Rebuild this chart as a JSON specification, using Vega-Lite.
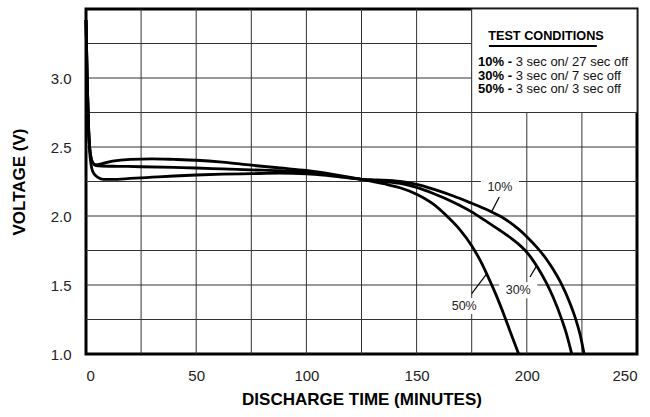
{
  "$schema": "https://vega.github.io/schema/vega-lite/v6.json",
  "width": 551,
  "height": 345,
  "autosize": {"type": "none"},
  "padding": {"left": 86, "top": 9, "right": 13, "bottom": 63},
  "background": "white",
  "config": {
    "font": "Liberation Sans",
    "view": {"stroke": "black", "strokeWidth": 3},
    "axis": {
      "domain": false,
      "ticks": false,
      "grid": false,
      "labelFont": "Liberation Sans",
      "labelFontSize": 15,
      "labelColor": "#222",
      "titleFont": "Liberation Sans",
      "titleFontSize": 17,
      "titleFontWeight": "bold",
      "titleColor": "black"
    }
  },
  "datasets": {
    "vgrid": [{"t": 25}, {"t": 50}, {"t": 75}, {"t": 100}, {"t": 125}, {"t": 150}, {"t": 175}, {"t": 200}, {"t": 225}],
    "hgrid": [{"v": 1.25}, {"v": 1.5}, {"v": 1.75}, {"v": 2.0}, {"v": 2.25}, {"v": 2.5}, {"v": 2.75}, {"v": 3.0}, {"v": 3.25}],
    "curves": [
      {"s": "50%", "t": 0, "v": 3.42}, {"s": "50%", "t": 0.6, "v": 2.95}, {"s": "50%", "t": 1.2, "v": 2.62}, {"s": "50%", "t": 2, "v": 2.45},
      {"s": "50%", "t": 3, "v": 2.39}, {"s": "50%", "t": 4.5, "v": 2.372}, {"s": "50%", "t": 7, "v": 2.378}, {"s": "50%", "t": 12, "v": 2.398},
      {"s": "50%", "t": 20, "v": 2.411}, {"s": "50%", "t": 30, "v": 2.414}, {"s": "50%", "t": 40, "v": 2.41}, {"s": "50%", "t": 50, "v": 2.404},
      {"s": "50%", "t": 62, "v": 2.39}, {"s": "50%", "t": 75, "v": 2.368}, {"s": "50%", "t": 88, "v": 2.348}, {"s": "50%", "t": 100, "v": 2.33},
      {"s": "50%", "t": 112, "v": 2.302}, {"s": "50%", "t": 125, "v": 2.266}, {"s": "50%", "t": 135, "v": 2.234}, {"s": "50%", "t": 142.5, "v": 2.205},
      {"s": "50%", "t": 150, "v": 2.158}, {"s": "50%", "t": 157.6, "v": 2.086}, {"s": "50%", "t": 163.6, "v": 2.002}, {"s": "50%", "t": 169.7, "v": 1.9},
      {"s": "50%", "t": 175, "v": 1.785}, {"s": "50%", "t": 178.8, "v": 1.68}, {"s": "50%", "t": 182.5, "v": 1.557}, {"s": "50%", "t": 186, "v": 1.43},
      {"s": "50%", "t": 190.1, "v": 1.265}, {"s": "50%", "t": 193, "v": 1.14}, {"s": "50%", "t": 196.3, "v": 1.0},

      {"s": "30%", "t": 0, "v": 3.42}, {"s": "30%", "t": 0.6, "v": 2.95}, {"s": "30%", "t": 1.2, "v": 2.62}, {"s": "30%", "t": 2, "v": 2.45},
      {"s": "30%", "t": 3, "v": 2.385}, {"s": "30%", "t": 4.5, "v": 2.365}, {"s": "30%", "t": 7, "v": 2.362}, {"s": "30%", "t": 15, "v": 2.36},
      {"s": "30%", "t": 25, "v": 2.357}, {"s": "30%", "t": 40, "v": 2.352}, {"s": "30%", "t": 50, "v": 2.348}, {"s": "30%", "t": 62, "v": 2.341},
      {"s": "30%", "t": 75, "v": 2.334}, {"s": "30%", "t": 88, "v": 2.328}, {"s": "30%", "t": 100, "v": 2.318}, {"s": "30%", "t": 112, "v": 2.295},
      {"s": "30%", "t": 125, "v": 2.266}, {"s": "30%", "t": 135, "v": 2.25}, {"s": "30%", "t": 142.5, "v": 2.236}, {"s": "30%", "t": 150, "v": 2.207},
      {"s": "30%", "t": 157.6, "v": 2.163}, {"s": "30%", "t": 166.7, "v": 2.1}, {"s": "30%", "t": 175, "v": 2.03}, {"s": "30%", "t": 181, "v": 1.968},
      {"s": "30%", "t": 187, "v": 1.905}, {"s": "30%", "t": 193, "v": 1.838}, {"s": "30%", "t": 196, "v": 1.8}, {"s": "30%", "t": 199.3, "v": 1.75},
      {"s": "30%", "t": 202, "v": 1.697}, {"s": "30%", "t": 205, "v": 1.625}, {"s": "30%", "t": 209, "v": 1.511}, {"s": "30%", "t": 212, "v": 1.409},
      {"s": "30%", "t": 215.8, "v": 1.253}, {"s": "30%", "t": 218, "v": 1.146}, {"s": "30%", "t": 220.4, "v": 1.0},

      {"s": "10%", "t": 0, "v": 3.42}, {"s": "10%", "t": 0.6, "v": 2.95}, {"s": "10%", "t": 1.2, "v": 2.64}, {"s": "10%", "t": 1.9, "v": 2.42},
      {"s": "10%", "t": 3.3, "v": 2.314}, {"s": "10%", "t": 5.6, "v": 2.278}, {"s": "10%", "t": 7.9, "v": 2.266}, {"s": "10%", "t": 12, "v": 2.266},
      {"s": "10%", "t": 20, "v": 2.272}, {"s": "10%", "t": 30, "v": 2.281}, {"s": "10%", "t": 40, "v": 2.29}, {"s": "10%", "t": 50, "v": 2.297},
      {"s": "10%", "t": 62, "v": 2.303}, {"s": "10%", "t": 75, "v": 2.307}, {"s": "10%", "t": 88, "v": 2.31}, {"s": "10%", "t": 100, "v": 2.306},
      {"s": "10%", "t": 112, "v": 2.289}, {"s": "10%", "t": 125, "v": 2.266}, {"s": "10%", "t": 132, "v": 2.261}, {"s": "10%", "t": 142.5, "v": 2.25},
      {"s": "10%", "t": 150, "v": 2.229}, {"s": "10%", "t": 157.6, "v": 2.195}, {"s": "10%", "t": 166.7, "v": 2.145}, {"s": "10%", "t": 175, "v": 2.092},
      {"s": "10%", "t": 181, "v": 2.052}, {"s": "10%", "t": 184.5, "v": 2.026}, {"s": "10%", "t": 188, "v": 1.998}, {"s": "10%", "t": 192, "v": 1.957},
      {"s": "10%", "t": 196, "v": 1.908}, {"s": "10%", "t": 200, "v": 1.85}, {"s": "10%", "t": 205, "v": 1.765}, {"s": "10%", "t": 209, "v": 1.685},
      {"s": "10%", "t": 212, "v": 1.612}, {"s": "10%", "t": 215.8, "v": 1.505}, {"s": "10%", "t": 219, "v": 1.392}, {"s": "10%", "t": 222, "v": 1.262},
      {"s": "10%", "t": 224.2, "v": 1.14}, {"s": "10%", "t": 226, "v": 1.0}
    ],
    "box": [{"t": 175, "t2": 250, "v": 2.75, "v2": 3.5}],
    "labels": [
      {"label": "10%", "t": 187.8, "v": 2.21},
      {"label": "30%", "t": 196.1, "v": 1.462},
      {"label": "50%", "t": 171.6, "v": 1.348}
    ],
    "leaders": [
      {"t": 187.5, "v": 2.138, "t2": 184, "v2": 2.03},
      {"t": 201.45, "v": 1.558, "t2": 204.5, "v2": 1.64},
      {"t": 175, "v": 1.438, "t2": 181.8, "v2": 1.58}
    ],
    "legendTitle": [{"t": 208.7, "v": 3.302, "text": "TEST CONDITIONS"}],
    "underline": [{"t": 182.8, "t2": 231.8, "v": 3.232}],
    "legendRows": [
      {"t": 177.9, "v": 3.116, "b": "10% -", "r": "3 sec on/ 27 sec off"},
      {"t": 177.9, "v": 3.018, "b": "30% -", "r": "3 sec on/ 7 sec off"},
      {"t": 177.9, "v": 2.92, "b": "50% -", "r": "3 sec on/ 3 sec off"}
    ]
  },
  "layer": [
    {
      "data": {"name": "vgrid"},
      "mark": {"type": "rule", "color": "#333", "strokeWidth": 1},
      "encoding": {
        "x": {
          "field": "t", "type": "quantitative",
          "scale": {"domain": [0, 250], "nice": false, "zero": false},
          "axis": {
            "values": [0, 50, 100, 150, 200, 250],
            "format": "d",
            "labelPadding": 14,
            "title": "DISCHARGE TIME (MINUTES)",
            "titlePadding": 8
          }
        }
      }
    },
    {
      "data": {"name": "hgrid"},
      "mark": {"type": "rule", "color": "#333", "strokeWidth": 1},
      "encoding": {
        "y": {
          "field": "v", "type": "quantitative",
          "scale": {"domain": [1, 3.5], "nice": false, "zero": false},
          "axis": {
            "values": [1, 1.5, 2, 2.5, 3],
            "format": ".1f",
            "labelPadding": 15,
            "title": "VOLTAGE (V)",
            "titlePadding": 22
          }
        }
      }
    },
    {
      "data": {"name": "box"},
      "mark": {"type": "rect", "fill": "white", "stroke": "#333", "strokeWidth": 1},
      "encoding": {
        "x": {"field": "t", "type": "quantitative"},
        "x2": {"field": "t2"},
        "y": {"field": "v", "type": "quantitative"},
        "y2": {"field": "v2"}
      }
    },
    {
      "data": {"name": "labels"},
      "mark": {"type": "point", "shape": "M-1.36,-0.57H1.36V0.57H-1.36Z", "size": 784, "filled": true, "fill": "white", "opacity": 1, "strokeWidth": 0},
      "encoding": {
        "x": {"field": "t", "type": "quantitative"},
        "y": {"field": "v", "type": "quantitative"}
      }
    },
    {
      "data": {"name": "curves"},
      "mark": {"type": "line", "color": "black", "strokeWidth": 2.8, "interpolate": "monotone"},
      "encoding": {
        "x": {"field": "t", "type": "quantitative"},
        "y": {"field": "v", "type": "quantitative"},
        "detail": {"field": "s"}
      }
    },
    {
      "data": {"name": "leaders"},
      "mark": {"type": "rule", "color": "black", "strokeWidth": 1.2},
      "encoding": {
        "x": {"field": "t", "type": "quantitative"},
        "y": {"field": "v", "type": "quantitative"},
        "x2": {"field": "t2"},
        "y2": {"field": "v2"}
      }
    },
    {
      "data": {"name": "labels"},
      "mark": {"type": "text", "fontSize": 12.5, "color": "#222", "align": "center", "baseline": "middle"},
      "encoding": {
        "x": {"field": "t", "type": "quantitative"},
        "y": {"field": "v", "type": "quantitative"},
        "text": {"field": "label"}
      }
    },
    {
      "data": {"name": "legendTitle"},
      "mark": {"type": "text", "fontSize": 12.7, "fontWeight": "bold", "color": "black", "align": "center", "baseline": "middle"},
      "encoding": {
        "x": {"field": "t", "type": "quantitative"},
        "y": {"field": "v", "type": "quantitative"},
        "text": {"field": "text"}
      }
    },
    {
      "data": {"name": "underline"},
      "mark": {"type": "rule", "color": "black", "strokeWidth": 2},
      "encoding": {
        "x": {"field": "t", "type": "quantitative"},
        "x2": {"field": "t2"},
        "y": {"field": "v", "type": "quantitative"}
      }
    },
    {
      "data": {"name": "legendRows"},
      "mark": {"type": "text", "fontSize": 13, "fontWeight": "bold", "color": "black", "align": "left", "baseline": "middle"},
      "encoding": {
        "x": {"field": "t", "type": "quantitative"},
        "y": {"field": "v", "type": "quantitative"},
        "text": {"field": "b"}
      }
    },
    {
      "data": {"name": "legendRows"},
      "mark": {"type": "text", "fontSize": 13, "color": "#111", "align": "left", "baseline": "middle", "dx": 37.6},
      "encoding": {
        "x": {"field": "t", "type": "quantitative"},
        "y": {"field": "v", "type": "quantitative"},
        "text": {"field": "r"}
      }
    }
  ]
}
